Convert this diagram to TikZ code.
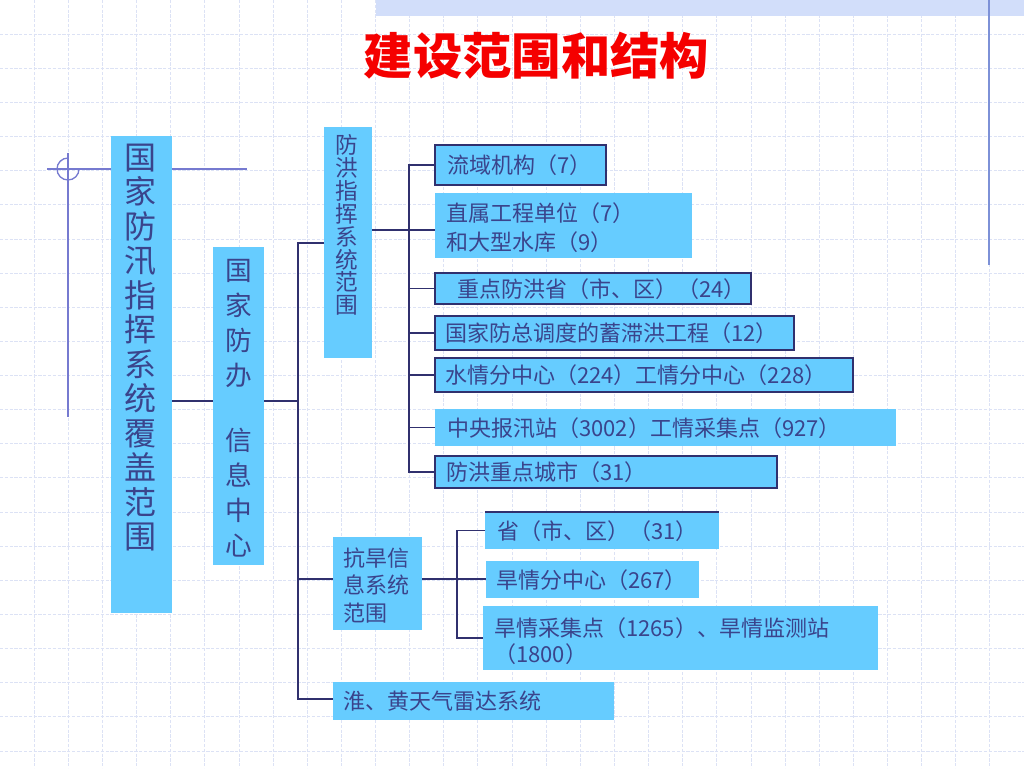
\documentclass[tikz,border=0pt]{standalone}
\usepackage{fontspec}
\setmainfont{Noto Sans CJK SC}
\usetikzlibrary{fit}
\definecolor{boxblue}{RGB}{102,204,255}
\definecolor{txtblue}{RGB}{58,68,140}
\definecolor{lineblue}{RGB}{48,48,110}
\definecolor{gridc}{RGB}{220,226,245}
\definecolor{decoc}{RGB}{118,122,208}
\definecolor{bandc}{RGB}{210,222,250}
\definecolor{titlered}{RGB}{245,0,0}
\tikzset{
  bx/.style={fill=boxblue, inner sep=0pt, outer sep=0pt},
  bxd/.style={bx, draw=lineblue, line width=1.1pt},
  txt/.style={text=txtblue, inner sep=0pt, anchor=west, align=left,
    font=\fontsize{16.5}{21.75}\selectfont},
  vtxt/.style={text=txtblue, inner sep=0pt, align=center},
  conn/.style={draw=lineblue, line width=1.1pt, line join=miter},
  gridline/.style={draw=gridc, line width=0.6pt, dash pattern=on 2.4pt off 1.2pt},
  deco/.style={draw=decoc, line width=1pt}
}
\begin{document}
\begin{tikzpicture}[x=0.75pt,y=-0.75pt]
\useasboundingbox (0,0) rectangle (1024,768);
\fill[white] (0,0) rectangle (1024,768);
% background grid
\foreach \i in {1,...,29} \draw[gridline] (\i*34.1333,0) -- (\i*34.1333,768);
\foreach \j in {1,...,22} \draw[gridline] (0,\j*34.1333) -- (1024,\j*34.1333);
% top band and decorations
\fill[bandc] (376,0) rectangle (1024,16);
\draw[deco, draw={rgb,255:red,125;green,145;blue,215}, line width=1.2pt] (989,0) -- (989,265);
\draw[deco] (47,169) -- (247,169);
\draw[deco] (68,158) arc[start angle=270, end angle=0, radius=11];
\draw[deco] (68,153) -- (68,417);

% title
\node[text=titlered, font=\bfseries\fontsize{37}{40}\selectfont, inner sep=0pt] (title) at (536.5,56) {建设范围和结构};

% main vertical boxes
\node[bx, fit={(111,136) (172,613)}] (big) {};
\node[vtxt, font=\fontsize{24}{25.9}\selectfont] (bigt) at (140,347.5)
  {国\\家\\防\\汛\\指\\挥\\系\\统\\覆\\盖\\范\\围};

\node[bx, fit={(213,247) (264,565)}] (ban) {};
\node[vtxt, font=\fontsize{20}{26.25}\selectfont] (bant) at (238.5,408.5)
  {国\\家\\防\\办\\[22.5pt]信\\息\\中\\心};

\node[bx, fit={(324,127) (372,358)}] (fh) {};
\node[vtxt, font=\fontsize{17}{17.2}\selectfont] (fht) at (347,225)
  {防\\洪\\指\\挥\\系\\统\\范\\围};

\node[bx, fit={(333,537) (422,630)}] (kh) {};
\node[txt, font=\fontsize{16.5}{20.6}\selectfont] (kht) at (343,585.5)
  {抗旱信\\息系统\\范围};

\node[bx, fit={(333,682) (614,720)}] (hh) {};
\node[txt] (hht) at (343,701) {淮、黄天气雷达系统};

% flood control group
\node[bxd, fit={(435,145) (606,185)}] (n1) {};
\node[txt] (n1t) at (447,165) {流域机构（7）};
\node[bx, fit={(435,193) (692,258)}] (n2) {};
\node[txt] (n2t) at (446,227.5) {直属工程单位（7）\\和大型水库（9）};
\node[bxd, fit={(435,273) (751,304)}] (n3) {};
\node[txt] (n3t) at (457,289) {重点防洪省（市、区）（24）};
\node[bxd, fit={(435,316) (794,350)}] (n4) {};
\node[txt] (n4t) at (445,333) {国家防总调度的蓄滞洪工程（12）};
\node[bxd, fit={(435,358) (853,392)}] (n5) {};
\node[txt] (n5t) at (445,375) {水情分中心（224）工情分中心（228）};
\node[bx, fit={(435,409) (896,446)}] (n6) {};
\node[txt] (n6t) at (447,428) {中央报汛站（3002）工情采集点（927）};
\node[bxd, fit={(435,456) (777,488)}] (n7) {};
\node[txt] (n7t) at (446,472) {防洪重点城市（31）};

% drought group
\node[bx, fit={(485,512) (719,549)}] (m1) {};
\draw[lineblue, line width=0.8pt] (m1.north west) -- (m1.north east);
\node[txt] (m1t) at (497,531) {省（市、区）（31）};
\node[bx, fit={(486,561) (699,598)}] (m2) {};
\node[txt] (m2t) at (496,580) {旱情分中心（267）};
\node[bx, fit={(483,606) (878,670)}] (m3) {};
\node[txt, font=\fontsize{16.5}{19.5}\selectfont] (m3t) at (494,641)
  {旱情采集点（1265）、旱情监测站\\（1800）};

% connectors: main trunk
\coordinate (A0) at (298,401);
\coordinate (A1) at (298,243);
\coordinate (A2) at (298,579);
\coordinate (A3) at (298,699);
\draw[conn] (big.east |- A0) -- (ban.west |- A0);
\draw[conn] (ban.east |- A0) -- (A0);
\draw[conn] (A1 -| fh.west) -- (A1) -- (A3) -- (A3 -| hh.west);
\draw[conn] (A2) -- (A2 -| kh.west);

% flood trunk
\coordinate (B0) at (409,230);
\draw[conn] (fh.east |- B0) -- (B0) -- (B0 -| n2.west);
\draw[conn] (n1.west) -- (n1.west -| B0) -- (n7.west -| B0) -- (n7.west);
\foreach \n in {n3,n4,n5,n6} \draw[conn] (\n.west -| B0) -- (\n.west);

% drought trunk
\coordinate (C0) at (457,579);
\draw[conn] (kh.east |- C0) -- (C0) -- (C0 -| m2.west);
\draw[conn] (m1.west) -- (m1.west -| C0) -- (m3.west -| C0) -- (m3.west);
\end{tikzpicture}
\end{document}
